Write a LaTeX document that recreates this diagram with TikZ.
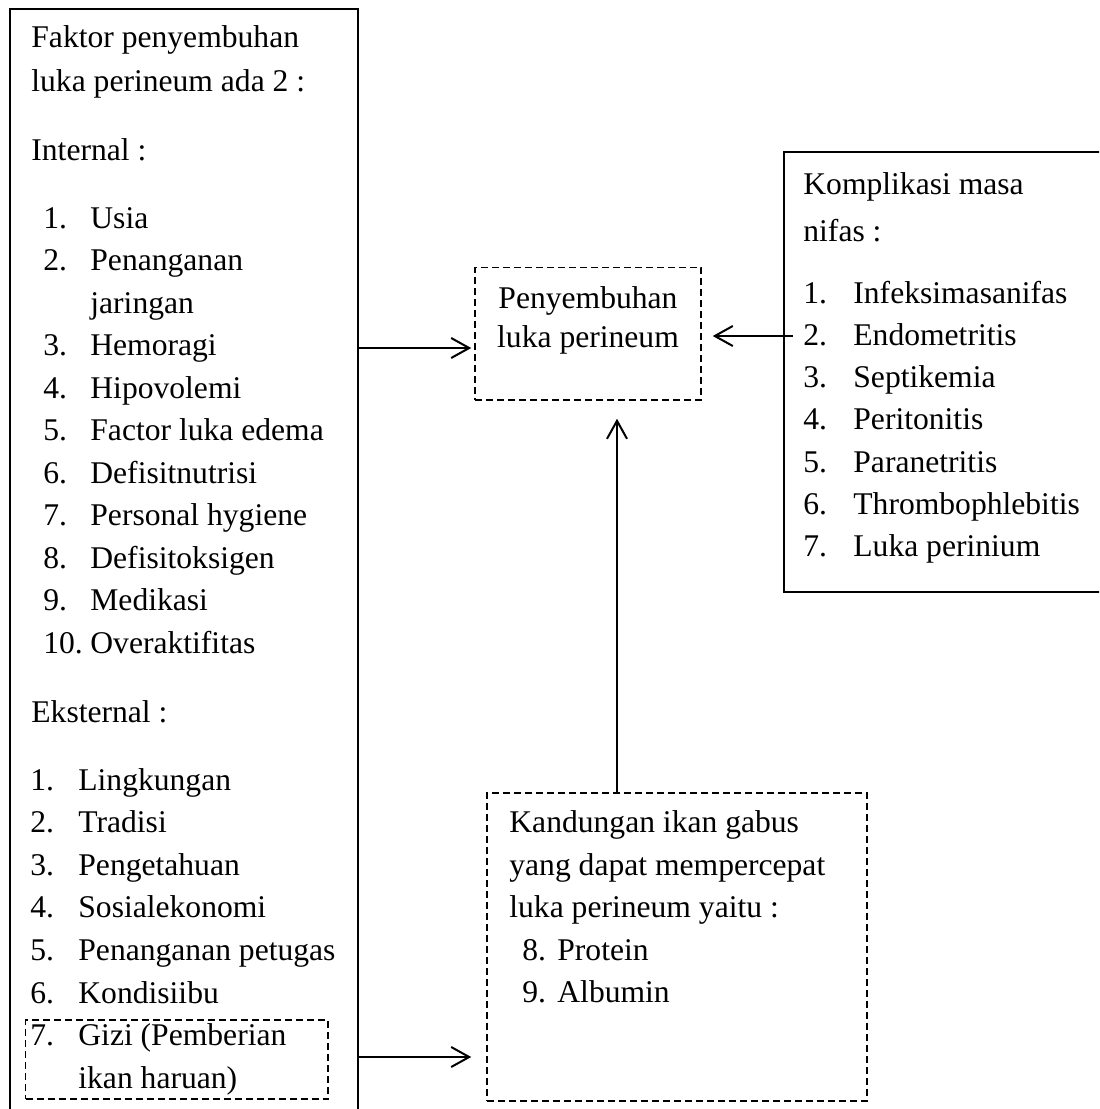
\documentclass[tikz,border=0pt]{standalone}
\usepackage{fontspec}
\setmainfont{Liberation Serif}
\usetikzlibrary{arrows.meta,fit}
\tikzset{
    txt/.style={anchor=base west, inner sep=0pt, font=\fontsize{15.8pt}{21pt}\selectfont},
    ctxt/.style={txt, anchor=base},
    solidbox/.style={draw, line width=1pt, inner sep=0pt},
    dashbox/.style={draw, line width=0.75pt, dash pattern=on 3.5pt off 2pt, inner sep=0pt},
    arr/.style={line width=1pt, -{Straight Barb[length=9pt,width=10pt]}}
}
\begin{document}
\begin{tikzpicture}[x=0.5pt, y=-0.5pt]
    \useasboundingbox (0,0) rectangle (1099,1109);
    \clip (0,0) rectangle (1099,1109);
    % boxes
    \coordinate (fk1) at (9.5,8.5);
    \coordinate (fk2) at (358,1130);
    \node[solidbox, fit=(fk1)(fk2)] (faktor) {};
    \coordinate (km1) at (783.5,152);
    \coordinate (km2) at (1130,592);
    \node[solidbox, fit=(km1)(km2)] (kompl) {};
    \coordinate (py1) at (475,267.5);
    \coordinate (py2) at (701,400);
    \node[dashbox, fit=(py1)(py2)] (penyem) {};
    \coordinate (kd1) at (487,793);
    \coordinate (kd2) at (867,1101);
    \node[dashbox, fit=(kd1)(kd2)] (kand) {};
    \coordinate (gz1) at (25.5,1020);
    \coordinate (gz2) at (328,1099);
    \node[dashbox, fit=(gz1)(gz2)] (gizi) {};
    % left box text
    \node[txt] (fk-a) at (31,47) {Faktor penyembuhan};
    \node[txt] (fk-b) at (31,91) {luka perineum ada 2 :};
    \node[txt] (fk-int) at (31,160) {Internal :};
    \foreach \n/\t/\k in {1./Usia/0, 2./Penanganan/1, /jaringan/2, 3./Hemoragi/3,
        4./Hipovolemi/4, 5./Factor luka edema/5, 6./Defisitnutrisi/6,
        7./Personal hygiene/7, 8./Defisitoksigen/8, 9./Medikasi/9, 10./Overaktifitas/10}{
        \node[txt] (in-n\k) at (43,{228+42.5*\k}) {\n};
        \node[txt] (in-t\k) at (90,{228+42.5*\k}) {\t};
    }
    \node[txt] (fk-eks) at (31,722) {Eksternal :};
    \foreach \n/\t/\k in {1./Lingkungan/0, 2./Tradisi/1, 3./Pengetahuan/2,
        4./Sosialekonomi/3, 5./Penanganan petugas/4, 6./Kondisiibu/5,
        7./Gizi (Pemberian/6, /ikan haruan)/7}{
        \node[txt] (ek-n\k) at (30,{790+42.6*\k}) {\n};
        \node[txt] (ek-t\k) at (78,{790+42.6*\k}) {\t};
    }
    % middle
    \node[ctxt] (py-a) at (588,308) {Penyembuhan};
    \node[ctxt] (py-b) at (588,347) {luka perineum};
    % right box text
    \node[txt] (km-a) at (803,194) {Komplikasi masa};
    \node[txt] (km-b) at (803,241) {nifas :};
    \foreach \t [count=\i] in {Infeksimasanifas, Endometritis, Septikemia, Peritonitis,
        Paranetritis, Thrombophlebitis, Luka perinium}{
        \node[txt] (km-n\i) at (803,{303+42.3*(\i-1)}) {\i.};
        \node[txt] (km-t\i) at (853,{303+42.3*(\i-1)}) {\t};
    }
    % bottom box text
    \node[txt] (kd-a) at (509,832) {Kandungan ikan gabus};
    \node[txt] (kd-b) at (509,875) {yang dapat mempercepat};
    \node[txt] (kd-c) at (509,917) {luka perineum yaitu :};
    \node[txt] (kd-n8) at (522,960) {8.};
    \node[txt] (kd-t8) at (557,960) {Protein};
    \node[txt] (kd-n9) at (522,1002) {9.};
    \node[txt] (kd-t9) at (557,1002) {Albumin};
    % arrows
    \coordinate (lin) at (0,348);
    \draw[arr, shorten >=1.5pt] (faktor.east |- lin) -- (penyem.west |- lin);
    \coordinate (rin) at (793,336);
    \draw[arr, shorten >=5.5pt] (rin) -- (penyem.east |- rin);
    \coordinate (vup) at (617,0);
    \draw[arr, shorten >=9pt] (kand.north -| vup) -- (penyem.south -| vup);
    \coordinate (bin) at (0,1057);
    \draw[arr, shorten >=7.5pt] (faktor.east |- bin) -- (kand.west |- bin);
\end{tikzpicture}
\end{document}
